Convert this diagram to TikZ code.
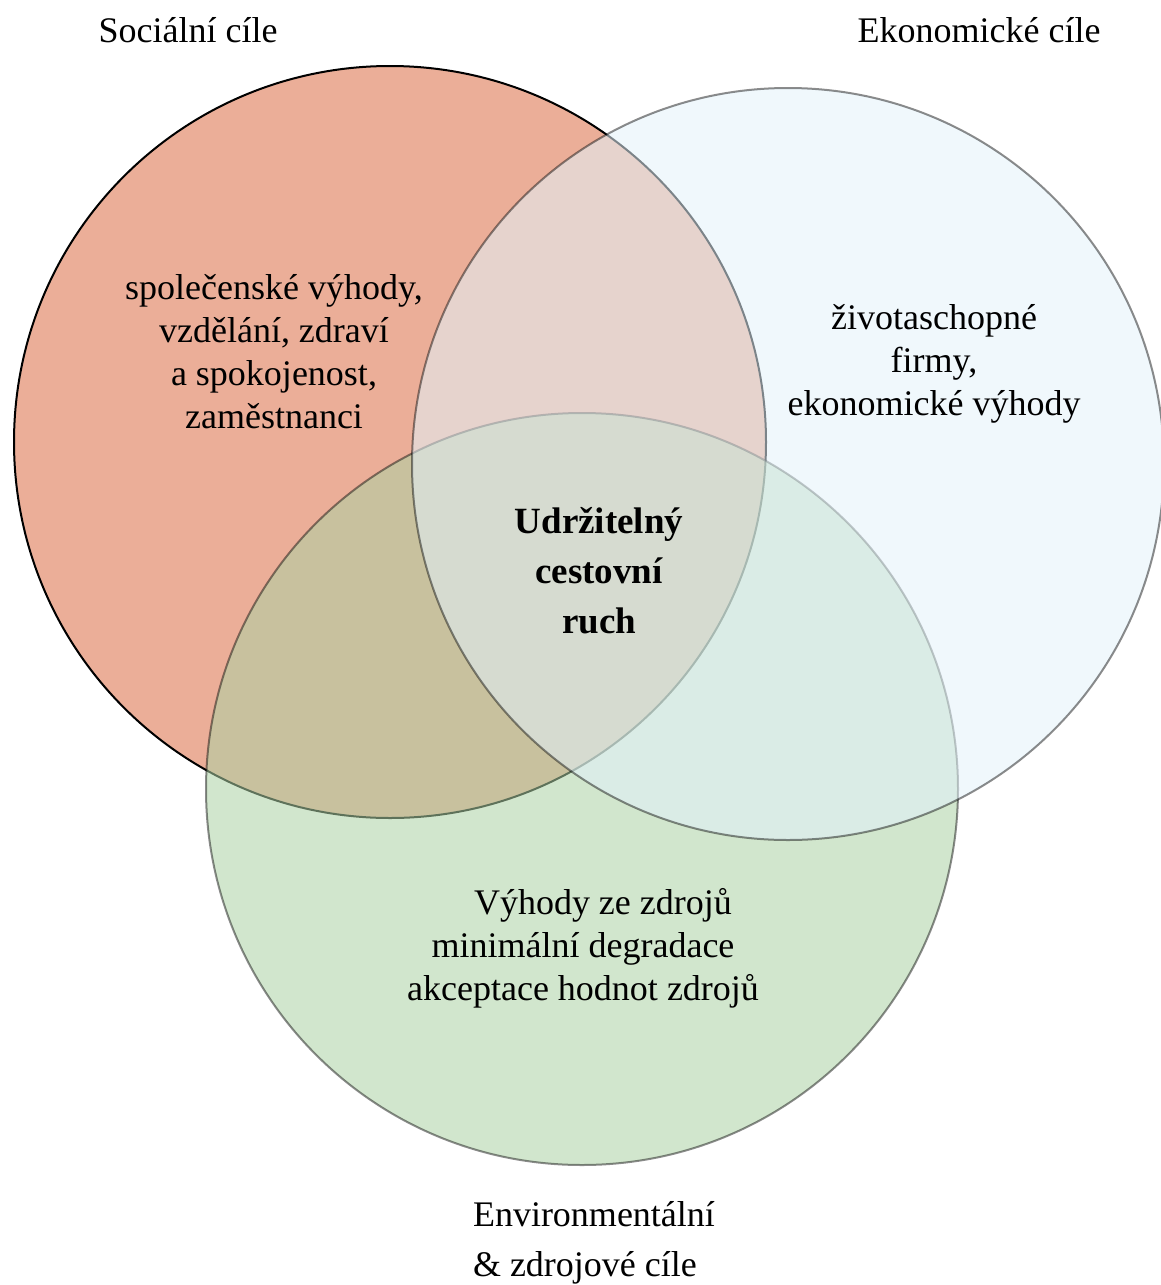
\documentclass[tikz,border=0pt]{standalone}
\usepackage{fontspec}
\setmainfont{Liberation Serif}
\usetikzlibrary{positioning}
\definecolor{socred}{RGB}{235,174,152}
\definecolor{ekoblue}{RGB}{227,242,250}
\definecolor{envgreen}{RGB}{172,209,164}

\begin{document}
\begin{tikzpicture}[x=1pt,y=-1pt,line width=2pt,
    set/.style={circle,draw,minimum size=752pt,inner sep=0pt},
    goal/.style={font=\fontsize{36}{43}\selectfont,align=center,inner sep=0pt}]
  \tikzstyle{see through}=[set,draw opacity=0.45,fill opacity=0.55]
  \useasboundingbox (0,0) rectangle (1160,1285);

  % the three sets
  \node[set,fill=socred]              (soc) at (390,442) {};
  \node[see through,fill=envgreen]    (env) at (582,789) {};
  \node[see through,fill=ekoblue]     (eko) at (788,464) {};

  % titles
  \node[goal] (soctitle) at (188,30) {Sociální cíle};
  \node[goal] (ekotitle) at (979,30) {Ekonomické cíle};
  \node[goal,font=\fontsize{36}{50}\selectfont,align=left,anchor=north west]
       (envtitle) at (472,1200) {Environmentální\\\& zdrojové cíle};

  % contents
  \node[goal] (soctext) at (274,352)
       {společenské výhody,\\vzdělání, zdraví\\a spokojenost,\\zaměstnanci};
  \node[goal] (ekotext) at (934,364)
       {životaschopné\\firmy,\\ekonomické výhody};
  \node[goal] (envtext) at (583,948)
       {\hspace*{40pt}Výhody ze zdrojů\\minimální degradace\\akceptace hodnot zdrojů};
  \node[goal,font=\fontsize{37}{50}\selectfont\bfseries] (core) at (599,571)
       {Udržitelný\\cestovní\\ruch};
\end{tikzpicture}
\end{document}
